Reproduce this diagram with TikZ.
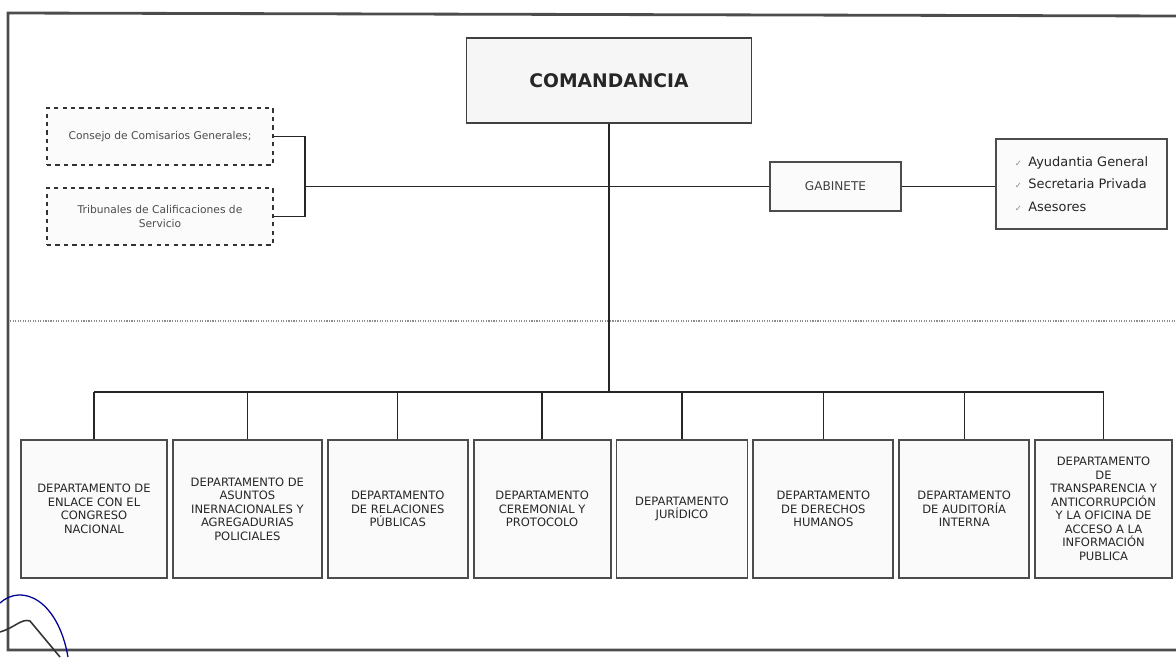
\documentclass[tikz,border=0pt]{standalone}
\usepackage{fontspec}
\setmainfont{DejaVu Sans}
\usepackage{tikz}
\usetikzlibrary{positioning,chains,calc}

\begin{document}
\begin{tikzpicture}[x=0.025cm,y=-0.025cm,
	every node/.style={inner sep=2pt},
	cmdnode/.style={draw=black!75,line width=0.9pt,fill=blue!3!gray!7,minimum width=7.125cm,minimum height=2.125cm,font=\bfseries\fontsize{13.3}{16}\selectfont,text=black!85},
	cnsnode/.style={draw=black!80,dashed,line width=1pt,fill=gray!3,minimum width=5.65cm,minimum height=1.425cm,align=center,font=\fontsize{7.6}{10}\selectfont,text=black!70},
	gabnode/.style={draw=black!70,line width=1.1pt,fill=gray!3,minimum width=3.275cm,minimum height=1.225cm,font=\fontsize{8.6}{10}\selectfont,text=black!75},
	lstnode/.style={draw=black!70,line width=1.2pt,fill=gray!3,minimum width=4.275cm,minimum height=2.25cm,align=left,font=\fontsize{9.2}{16}\selectfont,text=black!85},
	dptnode/.style={draw=black!70,line width=1.3pt,fill=gray!4,minimum height=3.45cm,align=center,font=\fontsize{8.2}{9.6}\selectfont,text=black!85},
	link/.style={line width=0.9pt,black!85}
	]
	\useasboundingbox (0,0) rectangle (1176,657);
	
	% the frame
	\draw[line width=2pt,black!70] (1176,16) -- (8,13) -- (8,650) -- (1176,650);
	\draw[densely dotted,line width=0.8pt,black!45] (10,321) -- (1176,321);
	
	% the top
	\node[cmdnode] (cmd) at (609,80.5) {COMANDANCIA};
	\node[cnsnode] (cons) at (160,136.5) {Consejo de Comisarios Generales;};
	\node[cnsnode] (trib) at (160,216.5) {Tribunales de Calificaciones de\\Servicio};
	\node[gabnode] (gab) at (835.5,186.5) {GABINETE};
	\node[lstnode] (lst) at (1081.5,184) {{\color{black!45}\fontsize{6}{6}\selectfont ✓}\enspace Ayudantia General\\{\color{black!45}\fontsize{6}{6}\selectfont ✓}\enspace Secretaria Privada\\{\color{black!45}\fontsize{6}{6}\selectfont ✓}\enspace Asesores};
	\coordinate (junc) at (305,186.5);
	\coordinate (bus) at (cmd.south |- 0,392);
	
	% the departments
	\begin{scope}[start chain=going right,node distance=1mm]
	\node[dptnode,on chain,minimum width=3.65cm] (d1) at (94,509) {DEPARTAMENTO DE\\ENLACE CON EL\\CONGRESO\\NACIONAL};
	\node[dptnode,on chain,minimum width=3.725cm] (d2) {DEPARTAMENTO DE\\ASUNTOS\\INERNACIONALES Y\\AGREGADURIAS\\POLICIALES};
	\node[dptnode,on chain,minimum width=3.5cm] (d3) {DEPARTAMENTO\\DE RELACIONES\\PÚBLICAS};
	\node[dptnode,on chain,minimum width=3.425cm] (d4) {DEPARTAMENTO\\CEREMONIAL Y\\PROTOCOLO};
	\node[dptnode,on chain,minimum width=3.275cm] (d5) {DEPARTAMENTO\\JURÍDICO};
	\node[dptnode,on chain,minimum width=3.5cm] (d6) {DEPARTAMENTO\\DE DERECHOS\\HUMANOS};
	\node[dptnode,on chain,minimum width=3.25cm] (d7) {DEPARTAMENTO\\DE AUDITORÍA\\INTERNA};
	\node[dptnode,on chain,minimum width=3.425cm] (d8) {DEPARTAMENTO\\DE\\TRANSPARENCIA Y\\ANTICORRUPCIÓN\\Y LA OFICINA DE\\ACCESO A LA\\INFORMACIÓN\\PUBLICA};
	\end{scope}
	
	% the edges
	\draw[link] (cons.east) -| (junc) |- (trib.east);
	\draw[link] (junc) -- (gab.west);
	\draw[link] (gab.east) -- (gab.east -| lst.west);
	\draw[link] (cmd.south) -- (bus);
	\draw[link] (d1.north |- bus) -- (d8.north |- bus);
	\foreach \i in {1,...,8}
		\draw[link] (d\i.north |- bus) -- (d\i.north);
	
	% the stamp
	\draw[blue!60!black,line width=0.9pt] (0,603) .. controls (22,583) and (58,600) .. (68,657);
	\draw[black!80,line width=1.1pt] (0,632) .. controls (14,628) and (22,618) .. (30,621) -- (60,657);
\end{tikzpicture}
\end{document}
